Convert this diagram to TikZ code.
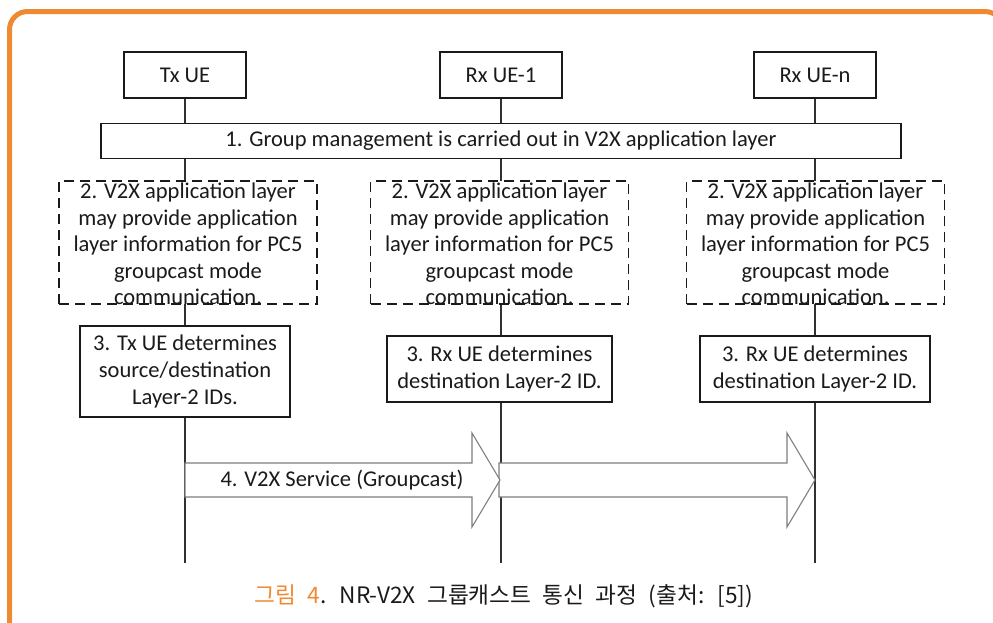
\documentclass[tikz,border=0pt]{standalone}
\usepackage{fontspec}
\setmainfont{Carlito}
\newfontfamily\krfont{Noto Sans CJK KR}
\usetikzlibrary{backgrounds}
\definecolor{frameorange}{RGB}{240,138,50}
\definecolor{ink}{RGB}{26,26,26}
\definecolor{arrowgray}{RGB}{125,125,125}
\begin{document}
\begin{tikzpicture}[x=0.75pt,y=-0.75pt,
  every node/.style={font=\fontsize{16.9}{19.9}\selectfont, text=ink},
  uebox/.style={draw=ink, line width=1.1pt, fill=white, minimum width=91.5pt, minimum height=34.5pt, inner sep=0pt},
  groupbox/.style={draw=ink, line width=1.1pt, fill=white, minimum width=600pt, minimum height=26.25pt, inner sep=0pt},
  dashbox/.style={draw=ink, line width=1.1pt, fill=white, dash pattern=on 7.5pt off 4.5pt, minimum width=193.5pt, minimum height=92.25pt, inner sep=0pt},
  plaintext/.style={align=center, inner sep=0pt},
  stepthree/.style={draw=ink, line width=1.1pt, fill=white, align=center, inner sep=0pt},
  lifeline/.style={draw=ink!90, line width=1.5pt},
  blockarrow/.style={draw=arrowgray, line width=0.8pt, fill=white, line join=miter},
]
\useasboundingbox (0,0) rectangle (993,622);
\draw[frameorange, line width=3.75pt, rounded corners=13.5pt] (9.5,11.5) rectangle (1003,670);

% UE headers
\node[uebox] (txue) at (185,75) {Tx UE};
\node[uebox] (rxone) at (501,75) {Rx UE-1};
\node[uebox] (rxn) at (815,75) {Rx UE-n};

% step 1
\node[groupbox] (group) at (501,141) {1. Group management is carried out in V2X application layer};

% step 2 (dashed)
\node[dashbox] (dtx) at (188,242.5) {};
\node[dashbox] (done) at (499.5,242.5) {};
\node[dashbox] (dn) at (815.5,242.5) {};
\node[plaintext] (dtxt) at (188,244) {2. V2X application layer\\may provide application\\layer information for PC5\\groupcast mode\\communication.};
\node[plaintext] (donet) at (499.5,244) {2. V2X application layer\\may provide application\\layer information for PC5\\groupcast mode\\communication.};
\node[plaintext] (dnt) at (815.5,244) {2. V2X application layer\\may provide application\\layer information for PC5\\groupcast mode\\communication.};

% step 3
\node[stepthree, minimum width=157.5pt, minimum height=68.25pt] (stx) at (185,371.5) {3. Tx UE determines\\source/destination\\Layer-2 IDs.};
\node[stepthree, minimum width=168.75pt, minimum height=49.5pt] (sone) at (499.5,369) {3. Rx UE determines\\destination Layer-2 ID.};
\node[stepthree, minimum width=172.5pt, minimum height=49.5pt] (sn) at (815,369) {3. Rx UE determines\\destination Layer-2 ID.};

% lifeline ends
\coordinate (txend) at (185,563);
\coordinate (oneend) at (501,563);
\coordinate (nend) at (815,563);

\begin{scope}[on background layer]
  \draw[lifeline] (txue.south) -- (txend);
  \draw[lifeline] (rxone.south) -- (oneend);
  \draw[lifeline] (rxn.south) -- (nend);
\end{scope}

% step 4 block arrows
\draw[blockarrow] (499,463) -- (787,463) -- (787,433) -- (815,480) -- (787,527) -- (787,497) -- (499,497) -- cycle;
\draw[blockarrow] (185,463) -- (472,463) -- (472,433) -- (500,480) -- (472,527) -- (472,497) -- (185,497) -- cycle;
\node[plaintext] (svc) at (342,480) {4. V2X Service (Groupcast)};

% caption
\node[inner sep=0pt, font=\krfont\fontsize{17}{20}\selectfont, text=ink] (cap) at (504,596) {\spaceskip=8.5pt\relax\textcolor{frameorange}{그림 4}. NR-V2X 그룹캐스트 통신 과정 (출처: [5])};
\end{tikzpicture}
\end{document}
